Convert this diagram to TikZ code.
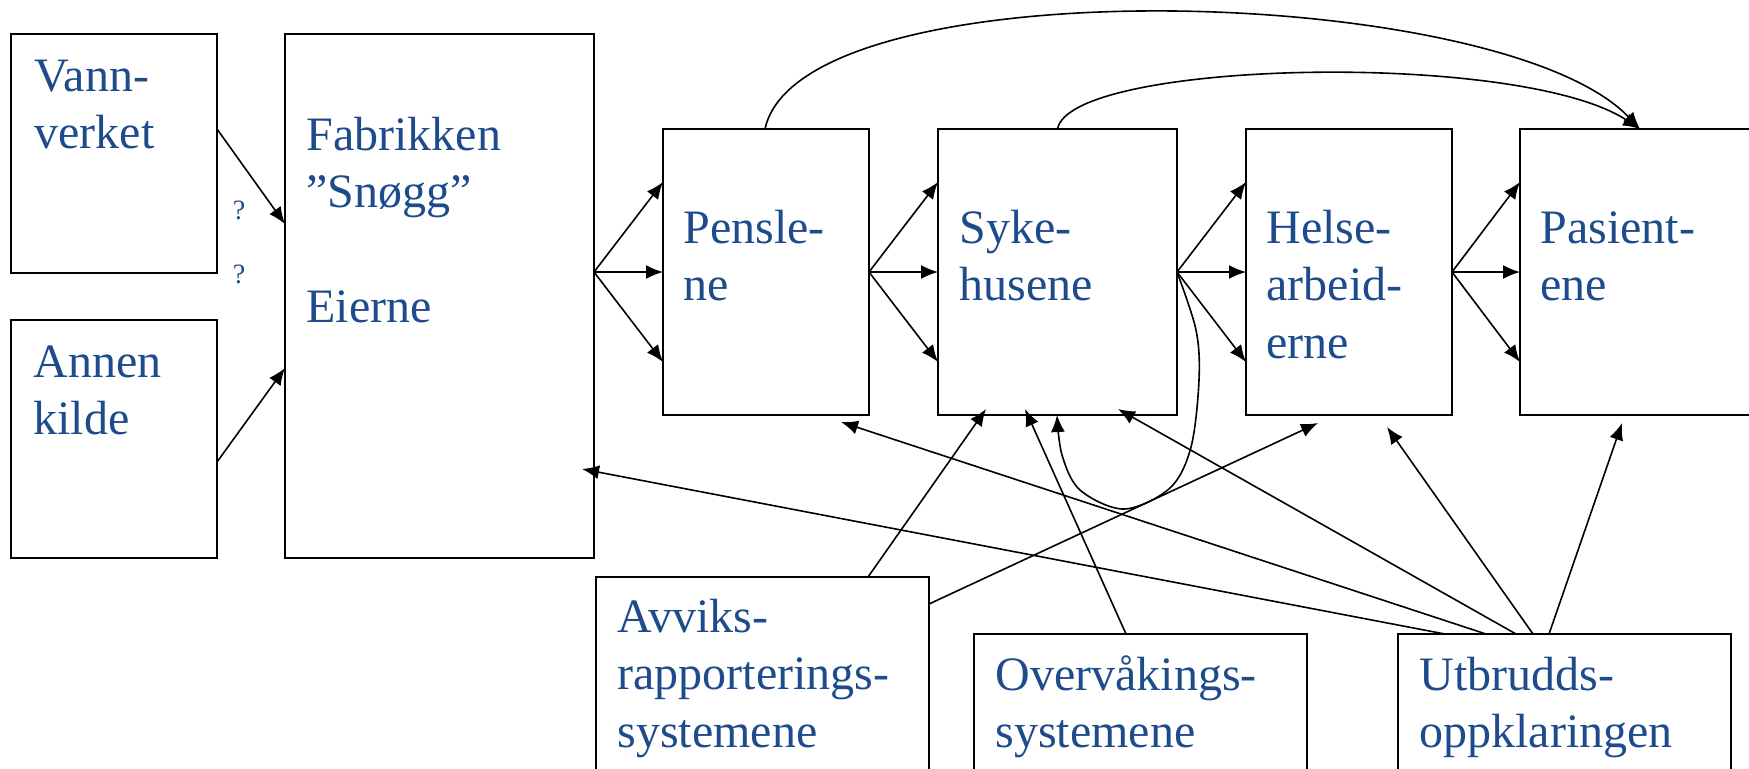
\documentclass[tikz,border=0pt]{standalone}
\usepackage{fontspec}
\setmainfont{Liberation Serif}
\usetikzlibrary{calc,arrows.meta}
\definecolor{txtblue}{RGB}{30,75,140}
\newcommand{\lns}[1]{\vtop{#1}}
\begin{document}
\begin{tikzpicture}[x=0.5pt,y=-0.5pt,
  box/.style={draw,line width=1.2pt,outer sep=0pt,inner sep=0pt},
  txt/.style={anchor=base west,inner sep=0pt,text=txtblue,font=\fontsize{24pt}{28.8pt}\selectfont},
  qm/.style={anchor=base,inner sep=0pt,text=txtblue,font=\fontsize{14pt}{16pt}\selectfont},
  arr/.style={line width=0.8pt,-{Latex[length=8.5pt,width=7pt]}}]
\useasboundingbox (0,0) rectangle (1749,768);
\clip (0,0) rectangle (1749,768);
% boxes
\node[box,minimum width=103pt,minimum height=119.5pt] (vann) at (114,153.5) {};
\node[box,minimum width=103pt,minimum height=119pt] (annen) at (114,439) {};
\node[box,minimum width=154.5pt,minimum height=262pt] (fab) at (439.5,296) {};
\node[box,minimum width=103pt,minimum height=143pt] (pens) at (766,272) {};
\node[box,minimum width=119.5pt,minimum height=143pt] (syke) at (1057.5,272) {};
\node[box,minimum width=103pt,minimum height=143pt] (helse) at (1349,272) {};
\node[box,minimum width=120pt,minimum height=143pt] (pas) at (1640,272) {};
\node[box,minimum width=166.5pt,minimum height=111.5pt] (avv) at (762.5,688.5) {};
\node[box,minimum width=166.5pt,minimum height=83pt] (ovr) at (1140.5,717) {};
\node[box,minimum width=166.5pt,minimum height=83pt] (utb) at (1564.5,717) {};
% texts
\node[txt] (tvann) at ($(vann.north west)+(23,57)$) {\lns{\hbox{Vann-}\hbox{verket}}};
\node[txt] (tannen) at ($(annen.north west)+(22,57)$) {\lns{\hbox{Annen}\hbox{kilde}}};
\node[txt] (tfab) at ($(fab.north west)+(21,116)$) {\lns{\hbox{Fabrikken}\hbox{”Snøgg”}\hbox{}\hbox{Eierne}}};
\node[txt] (tpens) at ($(pens.north west)+(20,114)$) {\lns{\hbox{Pensle-}\hbox{ne}}};
\node[txt] (tsyke) at ($(syke.north west)+(21,114)$) {\lns{\hbox{Syke-}\hbox{husene}}};
\node[txt] (thelse) at ($(helse.north west)+(20,114)$) {\lns{\hbox{Helse-}\hbox{arbeid-}\hbox{erne}}};
\node[txt] (tpas) at ($(pas.north west)+(20,114)$) {\lns{\hbox{Pasient-}\hbox{ene}}};
\node[txt] (tavv) at ($(avv.north west)+(21,55)$) {\lns{\hbox{Avviks-}\hbox{rapporterings-}\hbox{systemene}}};
\node[txt] (tovr) at ($(ovr.north west)+(21,56)$) {\lns{\hbox{Overvåkings-}\hbox{systemene}}};
\node[txt] (tutb) at ($(utb.north west)+(21,56)$) {\lns{\hbox{Utbrudds-}\hbox{oppklaringen}}};
\node[qm] (q1) at (239,219) {?};
\node[qm] (q2) at (239,283) {?};
% sources into factory
\draw[arr] ($(vann.east)+(0,-24.5)$) -- ($(fab.west)+(0,-72)$);
\draw[arr] ($(annen.east)+(0,23)$) -- ($(fab.west)+(0,72)$);
% fans
\coordinate (fsrc) at ($(fab.east)+(0,-24)$);
\foreach \d in {-90,0,90}{
  \draw[arr] (fsrc) -- ($(pens.west)+(0,\d)$);
  \draw[arr] (pens.east) -- ($(syke.west)+(0,\d)$);
  \draw[arr] (syke.east) -- ($(helse.west)+(0,\d)$);
  \draw[arr] (helse.east) -- ($(pas.north west)+(0,143+\d)$);
}
% top curves
\coordinate (pastop) at (pas.north);
\draw[arr] ($(pens.north)+(-1,0)$) .. controls (800,-35) and (1500,-18) .. (pastop);
\draw[arr] (syke.north) .. controls (1070,60) and (1520,50) .. (pastop);
% loop from Sykehusene back to itself
\draw[arr] plot[smooth,tension=0.55] coordinates {(syke.east) (1196,330) (1199,380) (1191,447) (1170,488) (1124,509) (1080,490) (1062,455) (1057,415)};
% bottom arrows
\draw[arr] ($(avv.north)+(105.5,0)$) -- ($(syke.south)+(-71.5,-6)$);
\draw[arr] ($(ovr.north)+(-14.5,0)$) -- ($(syke.south)+(-32.5,-6)$);
\draw[arr] ($(avv.north east)+(0,27)$) -- ($(helse.south)+(-31,8)$);
\draw[arr] ($(utb.north)+(-78.5,0)$) -- ($(pens.south)+(75,7)$);
\draw[arr] ($(utb.north)+(-119.5,0)$) -- ($(fab.east)+(-12,173)$);
\draw[arr] ($(utb.north)+(-48.5,0)$) -- ($(syke.south)+(60.5,-6)$);
\draw[arr] ($(utb.north)+(-31.5,0)$) -- ($(helse.south)+(38,12)$);
\draw[arr] ($(utb.north)+(-15.5,0)$) -- ($(pas.south)+(-18,8)$);
\end{tikzpicture}
\end{document}
